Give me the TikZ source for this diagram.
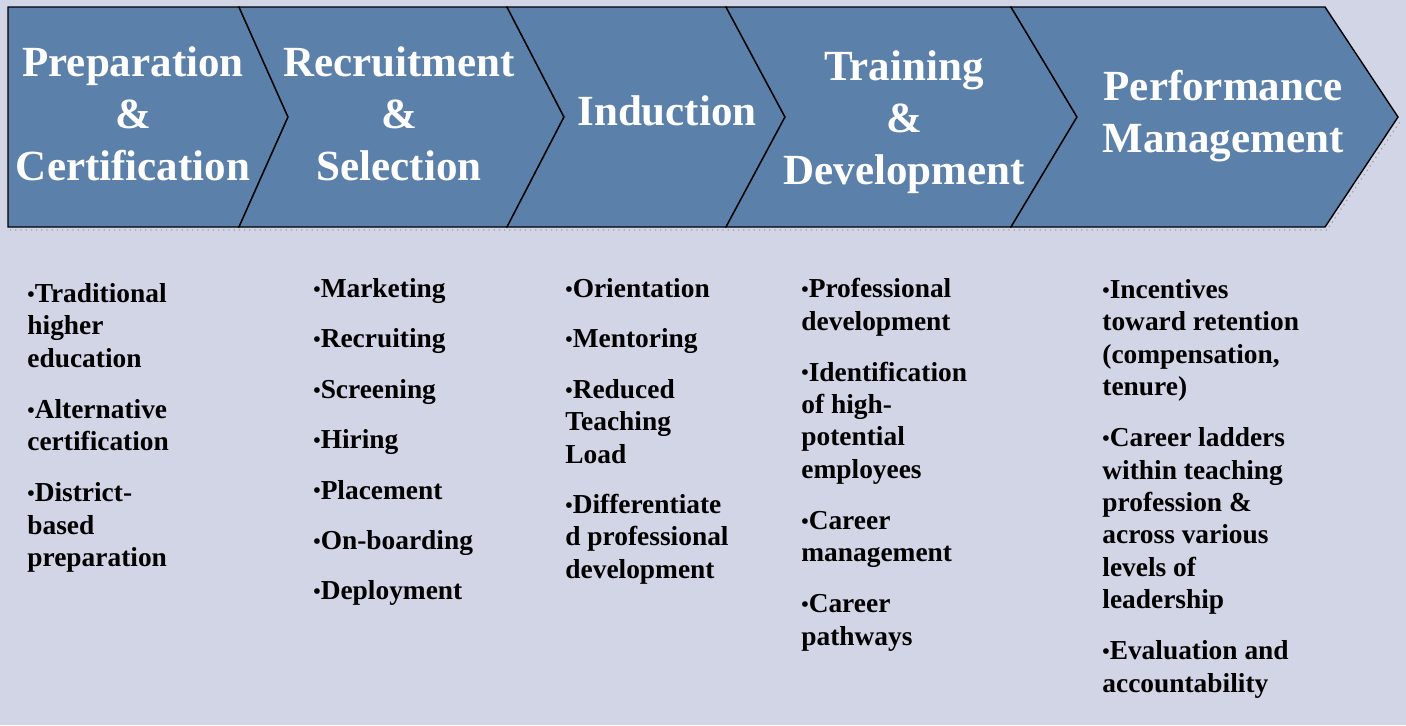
\documentclass[tikz,border=0pt]{standalone}
\usepackage{fontspec}
\setmainfont{Liberation Serif}
\definecolor{bgcol}{HTML}{D2D5E5}
\definecolor{chev}{HTML}{5B80AA}
% small list bullet, centred on the x-height
\newcommand\itm{\raisebox{0.6pt}{\fontsize{10.5}{10.5}\selectfont •}}
\begin{document}
\begin{tikzpicture}[x=0.5pt,y=-0.5pt,
  stage/.style={fill=chev,draw=black,line width=0.7pt,line join=miter},
  title/.style={text=white,font=\bfseries\fontsize{21.5}{26}\selectfont,align=center,inner sep=0pt},
  items/.style={font=\bfseries\fontsize{13.7}{16.2}\selectfont,align=left,anchor=north west,inner sep=0pt}]
% page background
\fill[bgcol] (0,0) rectangle (1406,725);
\useasboundingbox (0,0) rectangle (1406,725);
% faint shadow under the chevron band
\draw[gray!75,dotted,line width=0.6pt] (10,230) -- (1327,230) -- (1401,120);
% chevron band
\draw[stage] (8,7) -- (239,7) -- (288,117) -- (239,227) -- (8,227) -- cycle;
\draw[stage] (239,7) -- (507,7) -- (564,117) -- (507,227) -- (239,227) -- (288,117) -- cycle;
\draw[stage] (507,7) -- (726,7) -- (785,117) -- (726,227) -- (507,227) -- (564,117) -- cycle;
\draw[stage] (726,7) -- (1011,7) -- (1077,117) -- (1011,227) -- (726,227) -- (785,117) -- cycle;
\draw[stage] (1011,7) -- (1325,7) -- (1398,117) -- (1325,227) -- (1011,227) -- (1077,117) -- cycle;
% stage titles
\node[title] (t1) at (133,114) {Preparation\\\&\\Certification};
\node[title] (t2) at (399,114) {Recruitment\\\&\\Selection};
\node[title] (t3) at (667,111) {Induction};
\node[title] (t4) at (904,122) {Training\\\&\\Development};
\node[title] (t5) at (1223,116) {Performance\\Management};
% activity lists
\node[items] (l1) at (27,283) {\itm Traditional\\higher\\education\\[9.3pt]\itm Alternative\\certification\\[9.3pt]\itm District-\\based\\preparation};
\node[items] (l2) at (313,278) {\itm Marketing\\[9pt]\itm Recruiting\\[9pt]\itm Screening\\[9pt]\itm Hiring\\[9pt]\itm Placement\\[9pt]\itm On-boarding\\[9pt]\itm Deployment};
\node[items] (l3) at (565,278) {\itm Orientation\\[9pt]\itm Mentoring\\[9pt]\itm Reduced\\Teaching\\Load\\[9pt]\itm Differentiate\\d professional\\development};
\node[items] (l4) at (801,278) {\itm Professional\\development\\[9.3pt]\itm Identification\\of high-\\potential\\employees\\[9.3pt]\itm Career\\management\\[9.3pt]\itm Career\\pathways};
\node[items] (l5) at (1102,279) {\itm Incentives\\toward retention\\(compensation,\\tenure)\\[9.3pt]\itm Career ladders\\within teaching\\profession \&\\across various\\levels of\\leadership\\[9.3pt]\itm Evaluation and\\accountability};
\end{tikzpicture}
\end{document}
